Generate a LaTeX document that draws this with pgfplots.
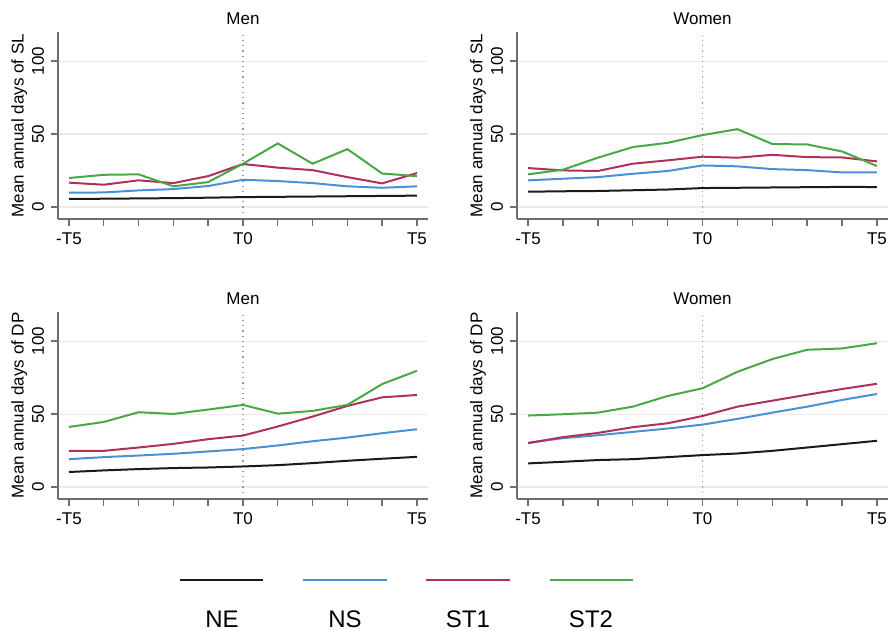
\documentclass[border=0pt]{standalone}
\usepackage{fontspec}
\setmainfont{Liberation Sans}
\usepackage{pgfplots}
\pgfplotsset{compat=1.18}
\definecolor{cNE}{HTML}{1A1A1A}
\definecolor{cNS}{HTML}{4A90D9}
\definecolor{cST1}{HTML}{B0305C}
\definecolor{cST2}{HTML}{48A844}
\definecolor{axgray}{HTML}{6E6E6E}
\pgfplotsset{
  panel/.style={
    scale only axis, height=93.5pt,
    xmin=-5.316, xmax=5.316, ymin=-8.2, ymax=120,
    axis x line*=bottom, axis y line*=left,
    axis line style={axgray, line width=0.7pt},
    xtick={-5,...,5}, xticklabels={-T5,,,,,T0,,,,,T5},
    ytick={0,50,100},
    ymajorgrids, major grid style={black!8, line width=0.6pt},
    tick align=outside, major tick length=3.5pt,
    tick style={axgray, line width=0.7pt},
    /pgf/number format/assume math mode=true,
    ticklabel style={font=\fontsize{8.5}{10}\selectfont},
    yticklabel style={rotate=90, anchor=south},
    label style={font=\fontsize{8.5}{10}\selectfont},
    title style={font=\fontsize{8.5}{10}\selectfont, yshift=-6pt},
    ylabel style={at={(axis description cs:-0.105,0.5)}, anchor=center},
    every axis plot/.append style={line width=1pt, no markers},
    clip=false,
  },
}
\begin{document}
\begin{tikzpicture}
\useasboundingbox (0,0) rectangle (444.5pt,315.5pt);
% Top-left: Men SL
\begin{axis}[panel, width=185pt, at={(29pt,206pt)}, anchor=south west,
  title={Men}, ylabel={Mean annual days of SL}]
\draw[gray!80, dotted, line width=0.6pt] (axis cs:0,-4) -- (axis cs:0,118);
\addplot[cNE] coordinates {(-5,5.5)(-4,5.7)(-3,5.9)(-2,6.1)(-1,6.4)(0,6.8)(1,7.0)(2,7.2)(3,7.4)(4,7.6)(5,7.8)};
\addplot[cNS] coordinates {(-5,9.8)(-4,10.0)(-3,11.4)(-2,12.3)(-1,14.4)(0,18.7)(1,17.8)(2,16.4)(3,14.2)(4,13.2)(5,14.2)};
\addplot[cST1] coordinates {(-5,16.7)(-4,15.3)(-3,18.3)(-2,16.4)(-1,21.2)(0,29.5)(1,27.0)(2,25.3)(3,20.5)(4,16.2)(5,23.3)};
\addplot[cST2] coordinates {(-5,19.9)(-4,22.1)(-3,22.4)(-2,14.2)(-1,17.1)(0,29.7)(1,43.6)(2,29.7)(3,39.7)(4,23.0)(5,21.2)};
\end{axis}
% Top-right: Women SL
\begin{axis}[panel, width=185.5pt, at={(258.5pt,206pt)}, anchor=south west,
  title={Women}, ylabel={Mean annual days of SL}]
\draw[gray!80, dotted, line width=0.6pt] (axis cs:0,-4) -- (axis cs:0,118);
\addplot[cNE] coordinates {(-5,10.5)(-4,10.8)(-3,11.0)(-2,11.5)(-1,12.0)(0,13.0)(1,13.2)(2,13.4)(3,13.6)(4,13.8)(5,13.7)};
\addplot[cNS] coordinates {(-5,18.3)(-4,19.4)(-3,20.5)(-2,22.8)(-1,24.7)(0,28.5)(1,27.9)(2,26.0)(3,25.3)(4,23.7)(5,23.7)};
\addplot[cST1] coordinates {(-5,26.7)(-4,25.1)(-3,24.7)(-2,29.7)(-1,32.0)(0,34.5)(1,33.8)(2,35.8)(3,34.2)(4,34.0)(5,31.3)};
\addplot[cST2] coordinates {(-5,22.4)(-4,25.6)(-3,33.8)(-2,41.1)(-1,44.0)(0,49.3)(1,53.4)(2,43.2)(3,42.9)(4,38.1)(5,28.1)};
\end{axis}
% Bottom-left: Men DP
\begin{axis}[panel, width=185pt, at={(29pt,66pt)}, anchor=south west,
  title={Men}, ylabel={Mean annual days of DP}]
\draw[gray!80, dotted, line width=0.6pt] (axis cs:0,-4) -- (axis cs:0,118);
\addplot[cNE] coordinates {(-5,10.3)(-4,11.4)(-3,12.3)(-2,13.0)(-1,13.4)(0,14.1)(1,15.0)(2,16.4)(3,18.0)(4,19.4)(5,20.7)};
\addplot[cNS] coordinates {(-5,19.1)(-4,20.5)(-3,21.6)(-2,22.8)(-1,24.4)(0,26.0)(1,28.5)(2,31.4)(3,33.9)(4,36.9)(5,39.6)};
\addplot[cST1] coordinates {(-5,24.8)(-4,24.8)(-3,27.1)(-2,29.6)(-1,32.8)(0,35.3)(1,41.5)(2,48.3)(3,55.6)(4,61.5)(5,63.1)};
\addplot[cST2] coordinates {(-5,41.2)(-4,44.6)(-3,51.3)(-2,50.1)(-1,53.1)(0,56.3)(1,50.3)(2,52.2)(3,56.3)(4,70.6)(5,79.7)};
\end{axis}
% Bottom-right: Women DP
\begin{axis}[panel, width=185.5pt, at={(258.5pt,66pt)}, anchor=south west,
  title={Women}, ylabel={Mean annual days of DP}]
\draw[gray!80, dotted, line width=0.6pt] (axis cs:0,-4) -- (axis cs:0,118);
\addplot[cNE] coordinates {(-5,16.2)(-4,17.3)(-3,18.5)(-2,19.1)(-1,20.5)(0,21.9)(1,23.0)(2,24.8)(3,27.1)(4,29.4)(5,31.7)};
\addplot[cNS] coordinates {(-5,30.3)(-4,33.5)(-3,35.5)(-2,37.8)(-1,40.1)(0,42.8)(1,46.7)(2,51.0)(3,55.1)(4,59.7)(5,63.8)};
\addplot[cST1] coordinates {(-5,30.1)(-4,34.2)(-3,37.1)(-2,41.0)(-1,43.7)(0,48.7)(1,55.1)(2,59.2)(3,63.3)(4,67.2)(5,70.8)};
\addplot[cST2] coordinates {(-5,49.0)(-4,49.9)(-3,51.0)(-2,55.1)(-1,62.4)(0,67.7)(1,79.0)(2,87.7)(3,94.1)(4,95.0)(5,98.6)};
\end{axis}
% Legend
\draw[cNE, line width=1pt] (90pt,25.5pt) -- (131.5pt,25.5pt);
\draw[cNS, line width=1pt] (151.5pt,25.5pt) -- (193.5pt,25.5pt);
\draw[cST1, line width=1pt] (213pt,25.5pt) -- (255pt,25.5pt);
\draw[cST2, line width=1pt] (275pt,25.5pt) -- (316.5pt,25.5pt);
\begin{scope}[every node/.style={font=\fontsize{12}{14}\selectfont, inner sep=0pt}]
\node at (111pt,6pt) {NE};
\node at (172.5pt,6pt) {NS};
\node at (234pt,6pt) {ST1};
\node at (295.5pt,6pt) {ST2};
\end{scope}
\end{tikzpicture}
\end{document}
